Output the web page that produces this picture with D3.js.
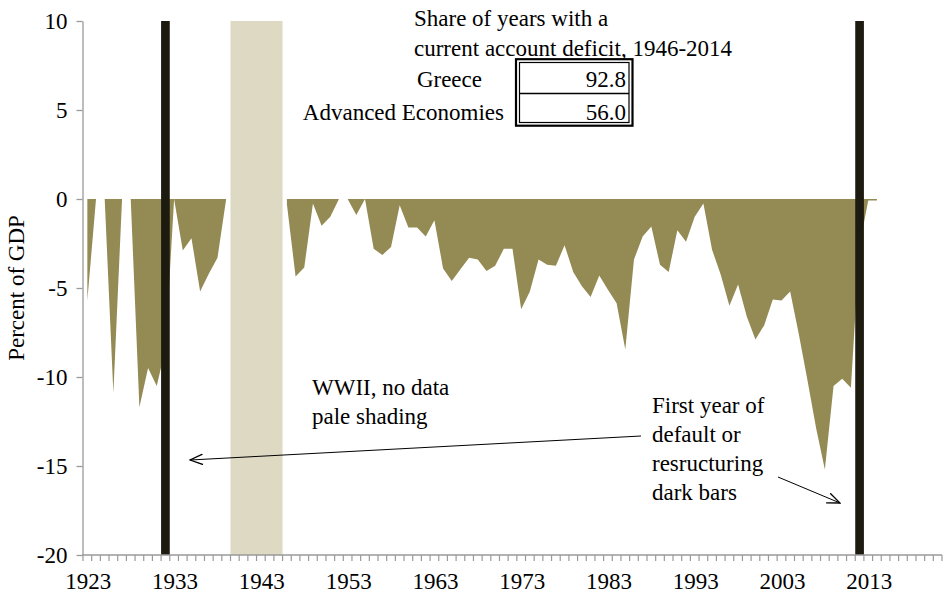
<!DOCTYPE html>
<html>
<head>
<meta charset="utf-8">
<script src="https://cdn.jsdelivr.net/npm/d3@7"></script>
<style>
    body { margin: 0; background: #fff; }
    svg text { font-family: "Liberation Serif", "Times New Roman", serif; font-size: 23px; fill: #000; }
</style>
</head>
<body>
<div id="chart"></div>
<script>
// categories on the x axis (one per year)
const firstYear = 1923;
const lastYear = 2021;
const labelYears = [1923, 1933, 1943, 1953, 1963, 1973, 1983, 1993, 2003, 2013];
const yTicks = [-20, -15, -10, -5, 0, 5, 10];

// current account balance, percent of GDP (null = no data, WWII)
const caYears = [
    1923, 1924, 1925, 1926, 1927, 1928, 1929, 1930, 1931, 1932,
    1933, 1934, 1935, 1936, 1937, 1938, 1939, 1940, 1941, 1942,
    1943, 1944, 1945, 1946, 1947, 1948, 1949, 1950, 1951, 1952,
    1953, 1954, 1955, 1956, 1957, 1958, 1959, 1960, 1961, 1962,
    1963, 1964, 1965, 1966, 1967, 1968, 1969, 1970, 1971, 1972,
    1973, 1974, 1975, 1976, 1977, 1978, 1979, 1980, 1981, 1982,
    1983, 1984, 1985, 1986, 1987, 1988, 1989, 1990, 1991, 1992,
    1993, 1994, 1995, 1996, 1997, 1998, 1999, 2000, 2001, 2002,
    2003, 2004, 2005, 2006, 2007, 2008, 2009, 2010, 2011, 2012,
    2013, 2014];
const caValues = [
    -5.7, 0, 0, -10.9, 0, 0, -11.7, -9.5, -10.5, -8.4,
    0, -2.9, -2.2, -5.2, -4.2, -3.3, 0, null, null, null,
    null, null, null, -0.3, -4.35, -3.85, -0.25, -1.5, -1.0, 0,
    0, -0.9, 0, -2.8, -3.15, -2.7, -0.35, -1.6, -1.6, -2.1,
    -1.2, -3.9, -4.6, -3.95, -3.3, -3.4, -4.05, -3.75, -2.8, -2.8,
    -6.2, -5.2, -3.4, -3.7, -3.75, -2.6, -4.1, -4.9, -5.5, -4.3,
    -5.1, -5.85, -8.45, -3.4, -2.1, -1.55, -3.7, -4.1, -1.75, -2.4,
    -1.0, -0.25, -2.85, -4.25, -6.0, -4.8, -6.6, -7.9, -7.1, -5.65,
    -5.7, -5.2, -7.6, -10.2, -12.9, -15.2, -10.5, -10.1, -10.6, -2.6,
    -0.08, -0.08];

// WWII, no data (pale shading) and first year of default (dark bars)
const wwiiYears = [1940, 1941, 1942, 1943, 1944, 1945];
const defaultYears = [1932, 2012];

// inset table
const tableTitle = ["Share of years with a", "current account deficit, 1946-2014"];
const tableRows = ["Greece", "Advanced Economies"];
const tableValues = [92.8, 56.0];

const width = 943, height = 596;
const margin = { top: 21, right: 1, bottom: 41, left: 83 };
const serif = '"Liberation Serif", "Times New Roman", serif';

const svg = d3.select("#chart").append("svg")
    .attr("width", width)
    .attr("height", height)
    .attr("font-family", serif)
    .attr("font-size", 23);

const years = d3.range(firstYear, lastYear + 1);

const x = d3.scaleBand()
    .domain(years)
    .range([margin.left, width - margin.right])
    .padding(0);

const y = d3.scaleLinear()
    .domain([-20, 10])
    .range([height - margin.bottom, margin.top]);

const cx = yr => x(yr) + x.bandwidth() / 2;

const data = caYears.map((yr, i) => ({ year: yr, value: caValues[i] }));

// area
const area = d3.area()
    .defined(d => d.value !== null)
    .x(d => cx(d.year))
    .y0(y(0))
    .y1(d => y(d.value));

svg.append("path")
    .datum(data)
    .attr("fill", "#948a54")
    .attr("d", area);

// pale shading, one block over the WWII years
const wwiiSpan = d3.extent(wwiiYears);
svg.append("rect")
    .attr("x", x(wwiiSpan[0]))
    .attr("width", x(wwiiSpan[1]) + x.bandwidth() - x(wwiiSpan[0]))
    .attr("y", y(10))
    .attr("height", y(-20) - y(10))
    .attr("fill", "#ddd9c3");

// dark bars
svg.append("g")
    .selectAll("rect")
    .data(defaultYears)
    .join("rect")
    .attr("x", d => x(d))
    .attr("width", x.bandwidth())
    .attr("y", y(10))
    .attr("height", y(-20) - y(10))
    .attr("fill", "#1d1b10");

// axes
const axisColor = "#9a9a9a";

const yAxis = svg.append("g")
    .attr("transform", "translate(" + (margin.left - 0.5) + ",0)")
    .call(d3.axisLeft(y).tickValues(yTicks).tickFormat(d => String(d))
        .tickSize(6).tickPadding(9).tickSizeOuter(0));
yAxis.attr("font-family", serif).attr("font-size", 23);
yAxis.select(".domain").attr("stroke", axisColor).attr("stroke-width", 1.3);
yAxis.selectAll(".tick line").attr("stroke", axisColor).attr("stroke-width", 1.3);
yAxis.selectAll("text").attr("dy", "0.34em");

const xAxis = svg.append("g")
    .attr("transform", "translate(0," + y(-20) + ")");
xAxis.append("line")
    .attr("x1", margin.left - 1)
    .attr("x2", width - margin.right)
    .attr("stroke", axisColor)
    .attr("stroke-width", 1.3);
xAxis.selectAll(".xtick")
    .data(years.concat([lastYear + 1]))
    .join("line")
    .attr("class", "xtick")
    .attr("x1", d => d > lastYear ? x(lastYear) + x.bandwidth() : x(d))
    .attr("x2", d => d > lastYear ? x(lastYear) + x.bandwidth() : x(d))
    .attr("y1", 0)
    .attr("y2", 6)
    .attr("stroke", axisColor)
    .attr("stroke-width", 1.2);
xAxis.selectAll(".xlabel")
    .data(labelYears)
    .join("text")
    .attr("class", "xlabel")
    .attr("x", d => cx(d) + 1)
    .attr("y", 34)
    .attr("text-anchor", "middle")
    .text(d => d);

svg.append("text")
    .attr("transform", "translate(24," + y(-5) + ") rotate(-90)")
    .attr("text-anchor", "middle")
    .text("Percent of GDP");

// inset table
svg.selectAll(".ttitle")
    .data(tableTitle)
    .join("text")
    .attr("class", "ttitle")
    .attr("x", 414)
    .attr("y", (d, i) => 26 + i * 30)
    .text(d => d);

const rowY = [87, 120];
svg.selectAll(".trow")
    .data(tableRows)
    .join("text")
    .attr("class", "trow")
    .attr("x", 504)
    .attr("y", (d, i) => rowY[i])
    .attr("text-anchor", "end")
    .attr("dx", (d, i) => i === 0 ? -22 : 0)
    .text(d => d);

svg.selectAll(".tval")
    .data(tableValues)
    .join("text")
    .attr("class", "tval")
    .attr("x", 626)
    .attr("y", (d, i) => rowY[i])
    .attr("text-anchor", "end")
    .text(d => d3.format(".1f")(d));

svg.append("rect")
    .attr("x", 516).attr("y", 59.2)
    .attr("width", 116.5).attr("height", 66.5)
    .attr("fill", "none").attr("stroke", "#000").attr("stroke-width", 2.2);
svg.append("rect")
    .attr("x", 519.5).attr("y", 62.5)
    .attr("width", 109.5).attr("height", 60)
    .attr("fill", "none").attr("stroke", "#000").attr("stroke-width", 1.2);
svg.append("line")
    .attr("x1", 519.5).attr("x2", 629)
    .attr("y1", 93.5).attr("y2", 93.5)
    .attr("stroke", "#000").attr("stroke-width", 1.3);

// annotations
svg.append("defs").append("marker")
    .attr("id", "arrow")
    .attr("viewBox", "0 0 12 10")
    .attr("refX", 11)
    .attr("refY", 5)
    .attr("markerWidth", 14)
    .attr("markerHeight", 12)
    .attr("markerUnits", "userSpaceOnUse")
    .attr("orient", "auto")
    .append("path")
    .attr("d", "M0,0.5 L11,5 L0,9.5")
    .attr("fill", "none")
    .attr("stroke", "#000")
    .attr("stroke-width", 1.1);

svg.append("line")
    .attr("x1", 641).attr("y1", 436)
    .attr("x2", 190).attr("y2", 460)
    .attr("stroke", "#000").attr("stroke-width", 1)
    .attr("marker-end", "url(#arrow)");

svg.append("line")
    .attr("x1", 778).attr("y1", 477)
    .attr("x2", 840).attr("y2", 503)
    .attr("stroke", "#000").attr("stroke-width", 1)
    .attr("marker-end", "url(#arrow)");

const wwiiNote = ["WWII, no data", "pale shading"];
svg.selectAll(".wnote")
    .data(wwiiNote)
    .join("text")
    .attr("class", "wnote")
    .attr("x", 312)
    .attr("y", (d, i) => 395 + i * 29)
    .text(d => d);

const defaultNote = ["First year of", "default or", "resructuring", "dark bars"];
svg.selectAll(".dnote")
    .data(defaultNote)
    .join("text")
    .attr("class", "dnote")
    .attr("x", 652)
    .attr("y", (d, i) => 413 + i * 29)
    .text(d => d);
</script>
</body>
</html>
